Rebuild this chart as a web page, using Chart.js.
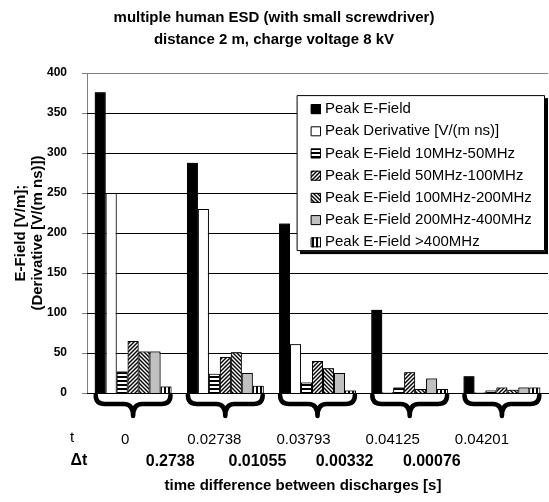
<!DOCTYPE html>
<html>
<head>
<meta charset="utf-8">
<script src="https://cdn.jsdelivr.net/npm/chart.js@4/dist/chart.umd.min.js"></script>
<style>
  body { margin: 0; background: #fff; }
</style>
</head>
<body>
<canvas id="chart" width="549" height="502"></canvas>
<script>
// valori
const tLabels = ["0", "0.02738", "0.03793", "0.04125", "0.04201"];
const dtLabels = ["0.2738", "0.01055", "0.00332", "0.00076"];
const yTicks = [0, 50, 100, 150, 200, 250, 300, 350, 400];

const peakE = [376, 288, 212, 104, 21];
const peakDeriv = [250, 230, 61, 1, 1];
const e10_50 = [27, 24, 13, 7, 3];
const e50_100 = [65, 45, 40, 26, 7];
const e100_200 = [52, 51, 31, 5, 4];
const e200_400 = [52, 25, 25, 18, 7];
const e400 = [8, 9, 3, 5, 7];

const seriesNames = [
  "Peak E-Field",
  "Peak Derivative [V/(m ns)]",
  "Peak E-Field 10MHz-50MHz",
  "Peak E-Field 50MHz-100MHz",
  "Peak E-Field 100MHz-200MHz",
  "Peak E-Field 200MHz-400MHz",
  "Peak E-Field >400MHz",
];

// tratteggi per le barre
function hatch(kind) {
  const s = 4;
  const c = document.createElement("canvas");
  c.width = s;
  c.height = s;
  const g = c.getContext("2d");
  g.fillStyle = "#fff";
  g.fillRect(0, 0, s, s);
  g.fillStyle = "#000";
  g.strokeStyle = "#000";
  g.lineWidth = 1.4;
  if (kind === "h") g.fillRect(0, 0, s, 2);
  if (kind === "v") g.fillRect(0, 0, 2, s);
  if (kind === "/" || kind === "\\") {
    const segs = kind === "/"
      ? [[0, s, s, 0], [-1, 1, 1, -1], [s - 1, s + 1, s + 1, s - 1]]
      : [[0, 0, s, s], [-1, s - 1, 1, s + 1], [s - 1, -1, s + 1, 1]];
    segs.forEach(([a, b, c2, d]) => {
      g.beginPath();
      g.moveTo(a, b);
      g.lineTo(c2, d);
      g.stroke();
    });
  }
  return g.createPattern(c, "repeat");
}

const fills = ["#000", "#fff", hatch("h"), hatch("/"), hatch("\\"), "#c0c0c0", hatch("v")];
const values = [peakE, peakDeriv, e10_50, e50_100, e100_200, e200_400, e400];

const extras = {
  id: "extras",
  afterDraw(chart) {
    const ctx = chart.ctx;
    const x = chart.scales.x;
    const y = chart.scales.y;
    const area = chart.chartArea;
    const h = area.bottom - area.top;

    // griglia orizzontale come rettangoli di 1px, poi ridisegno le barre sopra
    ctx.save();
    ctx.setTransform(1, 0, 0, 1, 0, 0);
    ctx.globalAlpha = 1;
    ctx.globalCompositeOperation = "source-over";
    yTicks.forEach((v) => {
      let py = y.getPixelForValue(v);
      const expected = area.bottom - (v / 400) * h;
      if (!isFinite(py) || Math.abs(py - expected) > 2) py = expected;
      py = Math.round(py);
      ctx.fillStyle = v === 400 ? "#808080" : "#000000";
      ctx.fillRect(Math.round(area.left), py, Math.round(area.right - area.left), 1);
      ctx.fillStyle = "#808080";
      ctx.fillRect(Math.round(area.left) - 5, py, 5, 1);
    });
    ctx.restore();
    chart.getSortedVisibleDatasetMetas().forEach((m) => m.controller.draw());
    ctx.save();

    const first = chart.getDatasetMeta(0).data;
    const last = chart.getDatasetMeta(6).data;

    // parentesi graffe sotto ogni gruppo
    ctx.strokeStyle = "#000";
    ctx.lineWidth = 4.5;
    ctx.lineCap = "round";
    ctx.lineJoin = "round";
    const top = area.bottom + 2;
    const mid = area.bottom + 11;
    const tip = area.bottom + 23;
    const r = 9;
    for (let i = 0; i < tLabels.length; i++) {
      const L = first[i].x - first[i].width / 2 + 1;
      const R = last[i].x + last[i].width / 2 - 1;
      const cx = (L + R) / 2;
      ctx.beginPath();
      ctx.moveTo(L, top);
      ctx.quadraticCurveTo(L, mid, L + r, mid);
      ctx.lineTo(cx - r, mid);
      ctx.quadraticCurveTo(cx, mid, cx, tip);
      ctx.quadraticCurveTo(cx, mid, cx + r, mid);
      ctx.lineTo(R - r, mid);
      ctx.quadraticCurveTo(R, mid, R, top);
      ctx.stroke();
    }

    // righe t e Δt
    ctx.fillStyle = "#000";
    ctx.textAlign = "center";
    ctx.textBaseline = "middle";
    ctx.font = "15px Arial, 'Liberation Sans', sans-serif";
    ctx.fillText("t", 72, 438);
    tLabels.forEach((lab, i) => {
      ctx.fillText(lab, x.getPixelForValue(i) - 8 - 3 * i, 440);
    });
    ctx.font = "bold 16px Arial, 'Liberation Sans', sans-serif";
    ctx.fillText("Δt", 79, 461);
    dtLabels.forEach((lab, i) => {
      const xm = (x.getPixelForValue(i) + x.getPixelForValue(i + 1)) / 2;
      ctx.fillText(lab, xm - 9 - 5 * i, 462);
    });
    ctx.font = "bold 15px Arial, 'Liberation Sans', sans-serif";
    ctx.fillText("time difference between discharges [s]", 303, 486);

    // legenda con ombra
    const lx = area.left + 210, ly = area.top + 22, lw = 248, lh = 156;
    ctx.fillStyle = "#000";
    ctx.fillRect(lx + 3, ly + 3, lw, lh);
    ctx.fillStyle = "#fff";
    ctx.fillRect(lx, ly, lw, lh);
    ctx.lineWidth = 1;
    ctx.strokeStyle = "#000";
    ctx.strokeRect(lx + 0.5, ly + 0.5, lw - 1, lh - 1);
    ctx.textAlign = "left";
    ctx.font = "15px Arial, 'Liberation Sans', sans-serif";
    chart.data.datasets.forEach((ds, i) => {
      const yy = ly + 14 + i * 22.2;
      ctx.fillStyle = ds.backgroundColor;
      ctx.fillRect(lx + 14, yy - 5, 10, 10);
      ctx.strokeRect(lx + 14.5, yy - 4.5, 9, 9);
      ctx.fillStyle = "#000";
      ctx.fillText(ds.label, lx + 28, yy);
    });
    ctx.restore();
  },
};

new Chart(document.getElementById("chart"), {
  type: "bar",
  data: {
    labels: tLabels,
    datasets: values.map((v, i) => ({
      label: seriesNames[i],
      data: v,
      backgroundColor: fills[i],
      borderColor: "#000",
      borderWidth: 1,
      categoryPercentage: 0.833,
      barPercentage: 1,
    })),
  },
  options: {
    responsive: false,
    animation: false,
    layout: { padding: { left: 0, right: 1, top: 0, bottom: 109 } },
    plugins: {
      legend: { display: false },
      tooltip: { enabled: false },
      title: {
        display: true,
        text: ["multiple human ESD (with small screwdriver)", "distance 2 m, charge voltage 8 kV"],
        color: "#000",
        font: { family: "Arial, 'Liberation Sans', sans-serif", size: 15, weight: "bold", lineHeight: 1.47 },
        padding: { top: 7, bottom: 22 },
      },
    },
    scales: {
      x: {
        ticks: { display: false },
        grid: { display: false },
        border: { color: "#000", width: 1 },
        afterFit(scale) { scale.height = 0; },
      },
      y: {
        min: 0,
        max: 400,
        ticks: {
          stepSize: 50,
          color: "#000",
          padding: 12,
          font: { family: "Arial, 'Liberation Sans', sans-serif", size: 12, weight: "bold" },
        },
        grid: { display: false },
        border: { display: true, color: "#808080", width: 1 },
        title: {
          display: true,
          text: ["E-Field [V/m];", "(Derivative [V/(m ns)])"],
          color: "#000",
          font: { family: "Arial, 'Liberation Sans', sans-serif", size: 15, weight: "bold", lineHeight: 1.13 },
          padding: { top: 12, bottom: 0 },
        },
        afterFit(scale) { scale.width = 87; },
      },
    },
  },
  plugins: [extras],
});
</script>
</body>
</html>
